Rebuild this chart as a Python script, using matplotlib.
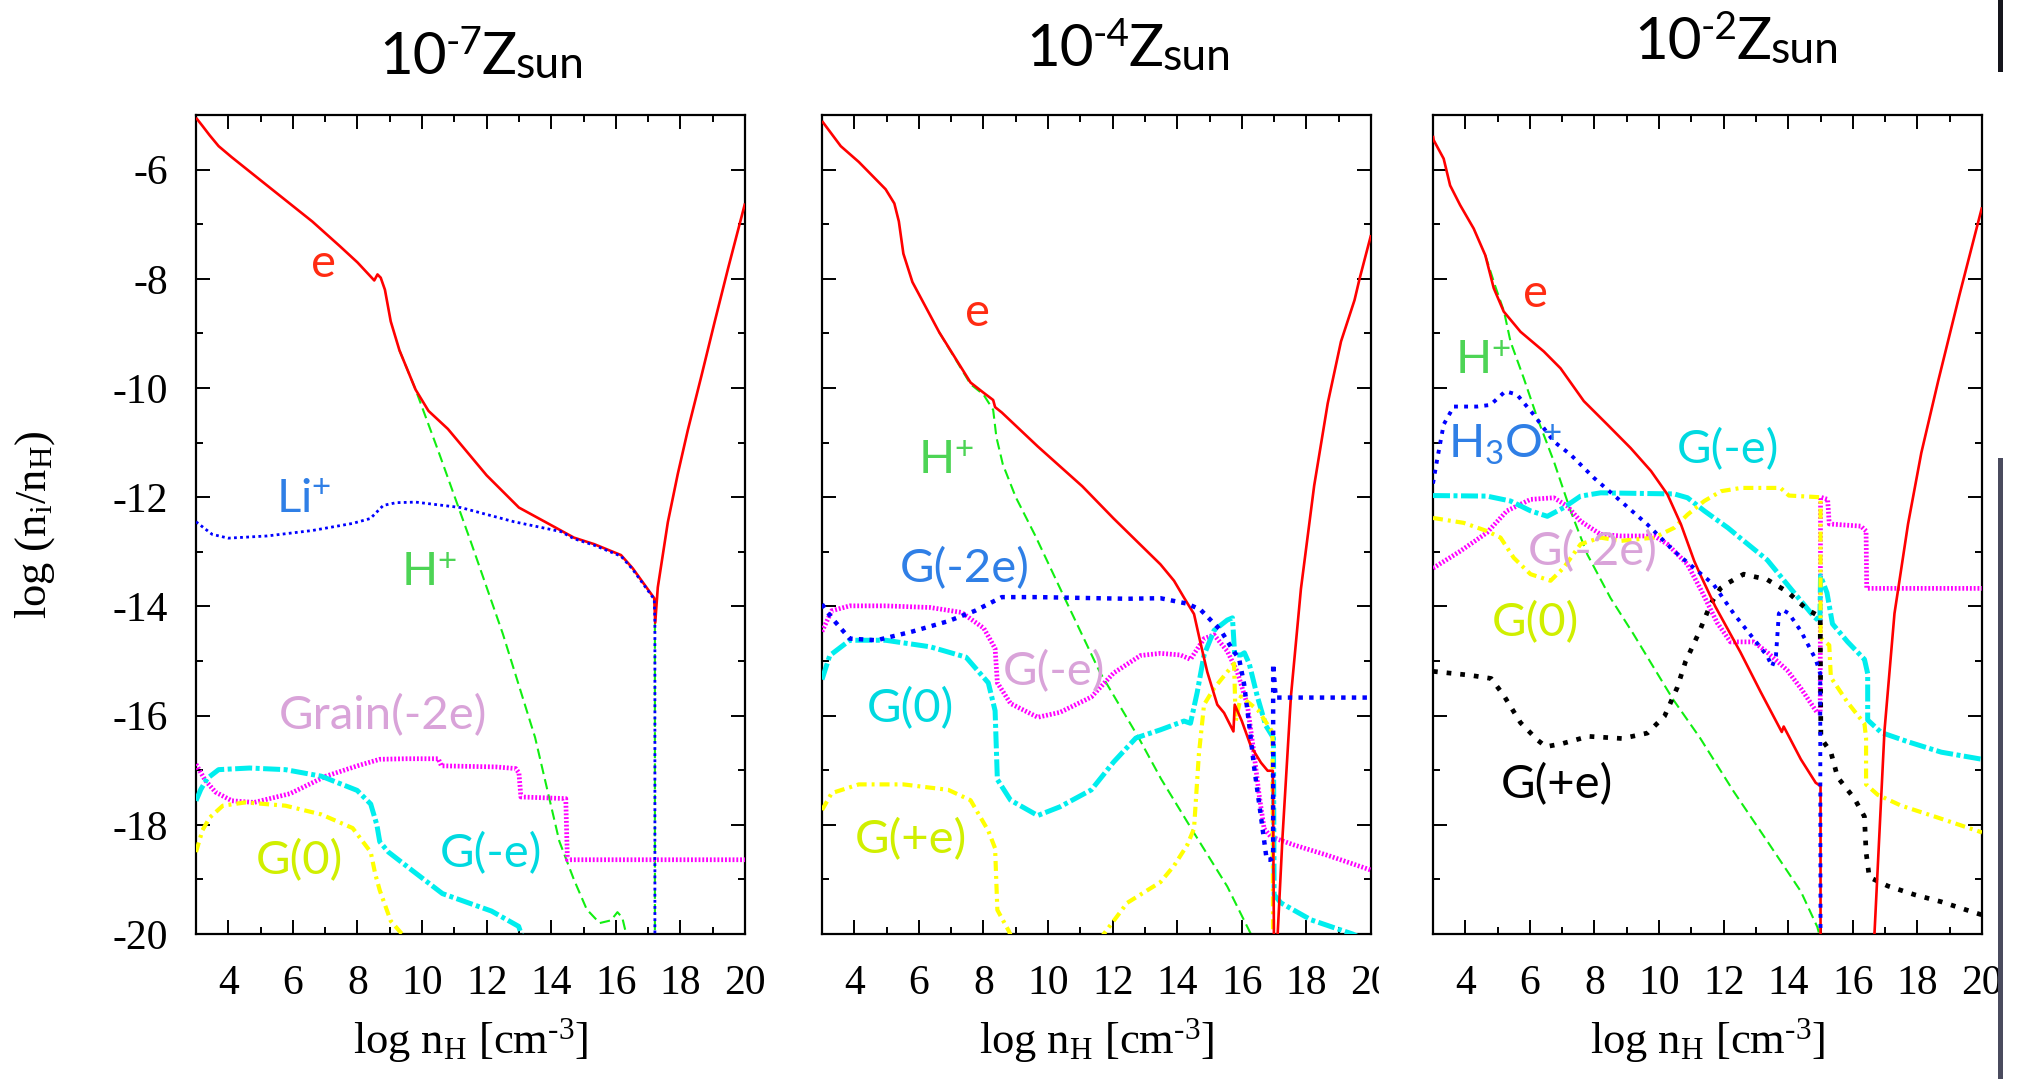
import matplotlib
matplotlib.use('Agg')
import matplotlib.pyplot as plt
from matplotlib.lines import Line2D
from matplotlib.patches import Rectangle
import numpy as np

nan = np.nan

# ---------------- Z = 1e-7 Zsun ----------------
p1_e_x = [3.0, 3.2, 3.42, 3.7, 4.1, 5.2, 6.6, 7.45, 8.0, 8.52, 8.62, 8.72, 8.85, 9.03, 9.3,
          9.8, 10.2, 10.8, 12.0, 13.0, 14.3, 14.7, 15.33, 16.16, 16.52, 17.19, 17.22, 17.3,
          17.61, 17.92, 18.23, 18.65, 19.06, 19.48, 20.0]
p1_e_y = [-5.05, -5.2, -5.37, -5.57, -5.77, -6.29, -6.95, -7.40, -7.70, -8.03, -7.92, -7.98,
          -8.2, -8.78, -9.31, -10.03, -10.42, -10.75, -11.60, -12.19, -12.61, -12.74, -12.86,
          -13.06, -13.30, -13.85, -14.30, -13.65, -12.46, -11.57, -10.77, -9.78, -8.79, -7.80, -6.62]
p1_li_x = [3.0, 3.5, 4.0, 5.2, 6.6, 7.85, 8.4, 8.8, 9.2, 9.8, 11.2, 12.85, 14.3, 14.7, 15.33,
           16.16, 16.52, 17.19, 17.21, 17.21]
p1_li_y = [-12.45, -12.68, -12.75, -12.71, -12.61, -12.48, -12.39, -12.15, -12.1, -12.09, -12.19,
           -12.45, -12.63, -12.76, -12.88, -13.08, -13.32, -13.87, -14.3, -20.5]
p1_hp_x = [9.3, 9.8, 10.5, 11.5, 12.5, 13.5, 14.25, 14.7, 15.1, 15.5, 15.85, 16.05, 16.2, 16.32,
           16.38, nan, 17.21, 17.21]
p1_hp_y = [-9.31, -10.03, -11.15, -12.8, -14.5, -16.4, -18.3, -19.0, -19.55, -19.8, -19.75, -19.6,
           -19.7, -20.0, -20.3, nan, -14.3, -20.5]
p1_g2_x = [3.0, 3.28, 3.6, 4.11, 4.8, 5.91, 7.02, 8.0, 8.69, 9.5, 10.5, 10.6, 12.29, 12.9, 13.0,
           13.06, 14.45, 14.5, 20.0]
p1_g2_y = [-16.89, -17.18, -17.4, -17.56, -17.59, -17.43, -17.11, -16.92, -16.80, -16.79, -16.79,
           -16.92, -16.94, -16.97, -17.05, -17.49, -17.52, -18.64, -18.64]
p1_gm_x = [3.0, 3.15, 3.35, 3.7, 4.66, 5.77, 6.88, 7.99, 8.41, 8.6, 8.69, 8.96, 9.66, 10.63,
           12.15, 12.99, 13.1]
p1_gm_y = [-17.56, -17.35, -17.15, -16.99, -16.96, -16.99, -17.11, -17.37, -17.62, -18.0, -18.31,
           -18.50, -18.82, -19.26, -19.58, -19.86, -20.05]
p1_g0_x = [3.0, 3.2, 3.42, 3.83, 4.53, 5.77, 6.88, 7.85, 8.41, 8.55, 8.69, 9.03, 9.45]
p1_g0_y = [-18.5, -18.1, -17.87, -17.65, -17.59, -17.65, -17.81, -18.06, -18.50, -18.9, -19.20,
           -19.76, -20.05]

# ---------------- Z = 1e-4 Zsun ----------------
p2_e_x = [3.0, 3.58, 4.14, 4.97, 5.24, 5.38, 5.52, 5.80, 6.63, 7.60, 8.01, 8.30, 8.36, 8.57,
          9.68, 11.06, 12.03, 12.72, 13.48, 13.90, 14.21, 14.52, 14.72, 14.93, 15.24, 15.45,
          15.74, 15.78, 16.0, 16.28, 16.59, 16.80, 16.96, 17.0, 17.11, 17.26, 17.52, 17.83,
          18.24, 18.66, 19.07, 19.49, 19.65, 20.0]
p2_e_y = [-5.11, -5.57, -5.86, -6.36, -6.62, -6.95, -7.54, -8.06, -8.98, -9.90, -10.09, -10.22,
          -10.35, -10.45, -11.07, -11.80, -12.39, -12.79, -13.23, -13.53, -13.84, -14.14, -14.67,
          -15.20, -15.80, -15.95, -16.29, -15.80, -16.1, -16.56, -16.86, -17.01, -17.01, -20.6,
          -20.0, -18.22, -15.65, -13.68, -11.79, -10.28, -9.15, -8.39, -7.99, -7.2]
p2_hp_x = [6.63, 7.6, 8.0, 8.3, 8.4, 8.6, 9.0, 9.6, 10.5, 11.6, 12.8, 13.5, 14.52, 15.55, 16.28, 16.4]
p2_hp_y = [-8.98, -9.93, -10.12, -10.4, -10.9, -11.4, -12.0, -12.7, -13.83, -15.2, -16.4, -17.16,
           -18.15, -19.13, -20.0, -20.2]
p2_g2_x = [3.0, 3.3, 3.86, 4.69, 5.80, 6.91, 7.74, 8.57, 9.68, 12.45, 13.48, 14.31, 14.72, 15.35,
           15.66, 15.92, 16.07, 16.23, 16.38, 16.59, 16.77, 16.88, 16.97, 16.97, 17.05, 20.0]
p2_g2_y = [-13.96, -14.21, -14.59, -14.62, -14.46, -14.27, -14.08, -13.83, -13.83, -13.86, -13.85,
           -13.95, -14.06, -14.44, -14.74, -14.97, -15.42, -16.18, -16.94, -17.84, -18.64, -18.64,
           -18.6, -15.05, -15.67, -15.67]
p2_gm_x = [3.0, 3.3, 3.86, 4.97, 6.35, 7.32, 8.01, 8.36, 8.43, 8.84, 9.68, 10.37, 11.34, 12.03,
           12.86, 13.48, 14.10, 14.41, 14.83, 15.14, 15.55, 15.86, 16.17, 16.38, 16.54, 16.69,
           16.90, 17.62, 18.66, 20.0]
p2_gm_y = [-14.46, -14.08, -13.99, -13.99, -14.02, -14.11, -14.40, -14.77, -15.40, -15.78, -16.03,
           -15.94, -15.66, -15.22, -14.90, -14.86, -14.89, -14.97, -14.59, -14.52, -14.82, -15.20,
           -15.80, -16.71, -17.47, -18.07, -18.22, -18.37, -18.56, -18.83]
p2_g0_x = [3.0, 3.24, 3.86, 4.97, 6.35, 7.46, 8.15, 8.36, 8.43, 8.84, 9.68, 10.37, 11.34, 12.03,
           12.72, 13.48, 14.21, 14.41, 14.62, 14.83, 15.14, 15.55, 15.71, 15.78, 15.97, 16.08,
           16.23, 16.48, 16.74, 16.98, 17.0, 17.21, 18.14, 19.43, 19.6]
p2_g0_y = [-15.34, -14.90, -14.62, -14.62, -14.74, -14.93, -15.40, -15.91, -17.17, -17.55, -17.83,
           -17.67, -17.36, -16.85, -16.41, -16.26, -16.10, -16.14, -15.57, -14.89, -14.44, -14.25,
           -14.21, -14.89, -14.89, -14.85, -15.05, -15.65, -16.18, -16.41, -19.28, -19.43, -19.74,
           -20.0, -20.05]
p2_gp_x = [3.0, 3.3, 4.14, 5.52, 6.91, 7.60, 8.15, 8.36, 8.43, 8.78, 8.9, nan, 11.6, 12.45, 13.48,
           13.90, 14.31, 14.52, 14.67, 14.83, 15.14, 15.55, 15.76, 15.81, 15.97, 16.5, 16.95, 16.97]
p2_gp_y = [-17.73, -17.42, -17.26, -17.26, -17.36, -17.55, -18.11, -18.43, -19.56, -19.94, -20.1,
           nan, -20.1, -19.43, -19.05, -18.75, -18.37, -18.07, -16.71, -15.80, -15.50, -15.20,
           -15.05, -16.10, -15.65, -15.9, -16.3, -20.5]

# ---------------- Z = 1e-2 Zsun ----------------
p3_e_x = [3.0, 3.02, 3.33, 3.53, 3.84, 4.26, 4.62, 4.88, 5.19, 5.71, 6.43, 6.95, 7.67, 8.40,
          9.12, 9.75, 10.26, 10.68, 11.09, 11.27, 11.74, 12.52, 13.14, 13.80, 13.86, 14.39,
          14.85, 15.0, 15.0, nan, 16.62, 16.67, 16.98, 17.29, 17.71, 18.12, 18.64, 19.3, 20.0]
p3_e_y = [-5.38, -5.46, -5.80, -6.29, -6.65, -7.08, -7.57, -8.17, -8.60, -8.97, -9.33, -9.64,
          -10.24, -10.67, -11.10, -11.52, -11.95, -12.50, -13.17, -13.41, -14.0, -14.84, -15.56,
          -16.30, -16.20, -16.80, -17.23, -17.29, -20.5, nan, -20.5, -20.0, -16.28, -14.13,
          -12.49, -11.19, -9.88, -8.3, -6.69]
p3_hp_x = [4.62, 4.93, 5.2, 5.40, 5.81, 6.23, 6.74, 7.26, 7.78, 8.5, 9.2, 10.43, 11.27, 12.31,
           13.35, 14.39, 14.9, 14.98]
p3_hp_y = [-7.57, -8.14, -8.6, -9.15, -9.82, -10.55, -11.34, -12.25, -13.05, -13.85, -14.5,
           -15.7, -16.41, -17.39, -18.30, -19.22, -19.87, -20.05]
p3_h3o_x = [3.0, 3.12, 3.33, 3.64, 4.36, 4.78, 5.24, 5.60, 6.12, 6.74, 7.26, 7.99, 8.81, 9.64,
            10.47, 11.19, 11.69, 12.31, 12.83, 13.35, 13.50, 13.62, 13.71, 13.82, 14.02, 14.39,
            14.85, 14.99, 15.0]
p3_h3o_y = [-11.75, -11.34, -10.67, -10.34, -10.34, -10.31, -10.06, -10.12, -10.49, -10.98,
            -11.22, -11.65, -12.07, -12.50, -12.99, -13.35, -13.60, -14.13, -14.52, -14.91,
            -15.10, -14.9, -14.13, -14.06, -14.13, -14.45, -14.97, -15.23, -20.5]
p3_gm_x = [3.0, 4.67, 5.40, 6.02, 6.54, 7.05, 7.57, 8.19, 10.47, 10.88, 11.40, 12.13, 12.52,
           13.35, 14.07, 14.80, 14.98, 15.0, 15.2, 15.37, 15.84, 16.36, 16.46, 16.46, 16.88,
           17.71, 18.74, 20.0]
p3_gm_y = [-11.97, -11.98, -12.07, -12.25, -12.35, -12.19, -11.98, -11.92, -11.94, -12.01,
           -12.25, -12.56, -12.75, -13.15, -13.67, -14.19, -14.28, -13.44, -13.75, -14.32,
           -14.65, -14.97, -15.23, -16.08, -16.31, -16.48, -16.67, -16.80]
p3_g2_x = [3.0, 3.84, 4.67, 5.29, 6.02, 6.74, 7.15, 7.57, 8.19, 8.81, 9.85, 10.26, 10.88, 11.3,
           11.8, 12.21, 12.93, 13.35, 13.97, 14.39, 14.90, 14.99, 15.0, 15.22, 15.27, 16.25,
           16.41, 16.43, 20.0]
p3_g2_y = [-13.3, -12.99, -12.65, -12.25, -12.04, -12.01, -12.16, -12.44, -12.68, -12.71,
           -12.71, -12.86, -13.23, -13.7, -14.3, -14.65, -14.65, -14.84, -15.17, -15.50, -15.95,
           -15.95, -12.0, -12.04, -12.49, -12.53, -12.62, -13.67, -13.67]
p3_g0_x = [3.0, 3.95, 4.67, 5.09, 5.50, 6.02, 6.64, 7.05, 7.57, 8.19, 8.81, 9.85, 10.47, 10.88,
           11.40, 11.92, 12.54, 13.76, 14.02, 14.96, 15.0, 15.0, 15.27, 15.32, 15.84, 16.36,
           16.41, 16.41, 16.77, 17.50, 18.54, 20.0]
p3_g0_y = [-12.38, -12.47, -12.62, -12.74, -13.11, -13.41, -13.53, -13.29, -12.86, -12.74,
           -12.80, -12.74, -12.56, -12.32, -12.07, -11.89, -11.83, -11.83, -11.97, -12.0, -12.0,
           -14.58, -14.71, -15.30, -15.76, -16.15, -16.41, -17.26, -17.45, -17.65, -17.85, -18.14]
p3_gp_x = [3.0, 4.14, 4.80, 5.19, 5.71, 6.24, 6.50, 7.02, 7.81, 8.86, 9.64, 10.17, 10.56, 10.82,
           11.22, 11.61, 11.90, 12.14, 12.62, 13.35, 13.97, 14.59, 14.99, 15.01, 15.32, 15.53,
           16.05, 16.36, 16.41, 16.51, 17.08, 17.91, 18.74, 19.78, 20.0]
p3_gp_y = [-15.19, -15.26, -15.32, -15.63, -16.13, -16.45, -16.57, -16.51, -16.38, -16.42,
           -16.32, -16.01, -15.49, -15.01, -14.50, -13.94, -13.67, -13.57, -13.41, -13.51,
           -13.73, -14.06, -14.19, -16.41, -16.67, -17.13, -17.52, -17.85, -18.50, -18.96,
           -19.12, -19.28, -19.41, -19.61, -19.65]

exponents = ['-7', '-4', '-2']

# line styles
RED = dict(color='#ff0000', lw=1.9, zorder=5)
GREEN = dict(color='#11ee11', lw=1.5, dashes=(5, 2.5), zorder=2)
BLUE_FINE = dict(color='#0000ff', lw=2.0, dashes=(1.0, 1.2), zorder=6)
BLUE_THICK = dict(color='#0000ff', lw=3.2, dashes=(1.0, 1.4), zorder=6)
BLUE_MID = dict(color='#0000ff', lw=2.8, dashes=(1.0, 1.6), zorder=6)
MAGENTA = dict(color='#ff00ff', lw=3.4, dashes=(0.4, 0.4), zorder=3)
CYAN = dict(color='#00eeee', lw=3.6, dashes=(3.4, 0.7, 0.8, 0.7), zorder=3)
YELLOW = dict(color='#ffff00', lw=3.0, dashes=(2.4, 1.2, 0.7, 1.2), zorder=4)
BLACK = dict(color='black', lw=3.4, dashes=(1.0, 1.9), zorder=4)

# label colours
C_E = '#ff2b12'
C_BLUE = '#2f7fe6'
C_GREEN = '#4dd455'
C_PLUM = '#d9a3d9'
C_LIME = '#d0ef00'
C_CYAN = '#00d9e0'

panels = [
    dict(curves=[(p1_hp_x, p1_hp_y, GREEN), (p1_g2_x, p1_g2_y, MAGENTA),
                 (p1_gm_x, p1_gm_y, CYAN), (p1_g0_x, p1_g0_y, YELLOW),
                 (p1_e_x, p1_e_y, RED), (p1_li_x, p1_li_y, BLUE_FINE)],
         labels=[('e', 6.95, -7.73, C_E), (r'Li$^{\mathsf{+}}$', 6.33, -12.03, C_BLUE),
                 (r'H$^{\mathsf{+}}$', 10.2, -13.38, C_GREEN), ('Grain(-2e)', 8.8, -16.0, C_PLUM),
                 ('G(0)', 6.2, -18.66, C_LIME), ('G(-e)', 12.13, -18.52, C_CYAN)]),
    dict(curves=[(p2_hp_x, p2_hp_y, GREEN), (p2_gm_x, p2_gm_y, MAGENTA),
                 (p2_g0_x, p2_g0_y, CYAN), (p2_gp_x, p2_gp_y, YELLOW),
                 (p2_e_x, p2_e_y, RED), (p2_g2_x, p2_g2_y, BLUE_THICK)],
         labels=[('e', 7.82, -8.63, C_E), (r'H$^{\mathsf{+}}$', 6.85, -11.34, C_GREEN),
                 ('G(-2e)', 7.43, -13.31, C_BLUE), ('G(-e)', 10.17, -15.2, C_PLUM),
                 ('G(0)', 5.74, -15.88, C_CYAN), ('G(+e)', 5.74, -18.28, C_LIME)]),
    dict(curves=[(p3_hp_x, p3_hp_y, GREEN), (p3_g2_x, p3_g2_y, MAGENTA),
                 (p3_gm_x, p3_gm_y, CYAN), (p3_g0_x, p3_g0_y, YELLOW),
                 (p3_gp_x, p3_gp_y, BLACK), (p3_e_x, p3_e_y, RED),
                 (p3_h3o_x, p3_h3o_y, BLUE_MID)],
         labels=[('e', 6.17, -8.28, C_E), (r'H$^{\mathsf{+}}$', 4.55, -9.51, C_GREEN),
                 (r'H$_{\mathsf{3}}$O$^{\mathsf{+}}$', 5.24, -11.04, C_BLUE),
                 ('G(-e)', 12.14, -11.13, C_CYAN), ('G(-2e)', 7.95, -13.0, C_PLUM),
                 ('G(0)', 6.17, -14.29, C_LIME), ('G(+e)', 6.83, -17.26, 'black')]),
]

plt.rcParams['font.family'] = 'Liberation Serif'
plt.rcParams['mathtext.fontset'] = 'custom'
plt.rcParams['mathtext.rm'] = 'Liberation Serif'
plt.rcParams['mathtext.it'] = 'Liberation Serif:italic'
plt.rcParams['mathtext.sf'] = 'Lato'
plt.rcParams['axes.unicode_minus'] = False

W, H = 2022, 1079
fig = plt.figure(figsize=(W / 100, H / 100), dpi=100)
renderer = fig.canvas.get_renderer()

lefts = [196, 822, 1433]
title_left = [379, 1026, 1634]
title_base = [74, 66, 59]
ax_w = 549
ax_top, ax_bot = 115, 934


def setup_panel(ax, first):
    ax.set_xlim(3, 20)
    ax.set_ylim(-20, -5)
    ax.set_xticks(np.arange(4, 21, 2))
    ax.set_xticks(np.arange(3, 20, 2), minor=True)
    ax.set_yticks(np.arange(-20, -5, 2))
    ax.set_yticks(np.arange(-19, -4, 2), minor=True)
    ax.tick_params(which='both', direction='in', top=True, right=True, width=1.4)
    ax.tick_params(which='major', length=10)
    ax.tick_params(which='minor', length=5)
    ax.tick_params(axis='x', pad=22, labelsize=30)
    ax.tick_params(axis='y', pad=20, labelsize=30, labelleft=first)
    for s in ax.spines.values():
        s.set_linewidth(1.6)
    ax.set_xlabel(r'log n$_{\mathrm{H}}$ [cm$^{\text{-}3}$]', fontsize=32)
    ax.xaxis.set_label_coords(0.5, -0.10)
    if first:
        ax.set_ylabel(r'log (n$_{\mathrm{i}}$/n$_{\mathrm{H}}$)', fontsize=32)
        ax.yaxis.set_label_coords(-0.253, 0.5)


def title_text(x_px, base_px, expo):
    # "10", raised exponent, "Z", lowered "sun", laid out one after another
    parts = [('10', 42, 0), (expo, 28, -20), ('Z', 42, 0), ('sun', 32, 4)]
    for s, size, dy in parts:
        t = fig.text(x_px / W, 1 - (base_px + dy) / H, s, fontsize=size, family='Lato',
                     ha='left', va='baseline')
        x_px += t.get_window_extent(renderer).width - 1


for i, p in enumerate(panels):
    ax = fig.add_axes([lefts[i] / W, 1 - ax_bot / H, ax_w / W, (ax_bot - ax_top) / H])
    setup_panel(ax, i == 0)
    for x, y, st in p['curves']:
        ax.plot(x, y, solid_capstyle='butt', dash_capstyle='butt', **st)
    for txt, lx, ly, c in p['labels']:
        ax.text(lx, ly, txt, color=c, fontsize=34, family='Lato',
                ha='center', va='center', zorder=8)
    title_text(title_left[i], title_base[i], exponents[i])

# the right panel overlaps the middle panel's last tick label
fig.add_artist(Rectangle((1379 / W, 0), 50 / W, (H - 945) / H, transform=fig.transFigure,
                         facecolor='white', edgecolor='none', zorder=10))

# slide edge marks along the right border
fig.add_artist(Line2D([2000 / W, 2000 / W], [1, 1 - 69 / H], transform=fig.transFigure,
                      color='#15151c', lw=3.6))
fig.add_artist(Line2D([2000 / W, 2000 / W], [1 - 460 / H, 0], transform=fig.transFigure,
                      color='#4a4b5e', lw=3.6))

fig.savefig('out.png', dpi=100)
